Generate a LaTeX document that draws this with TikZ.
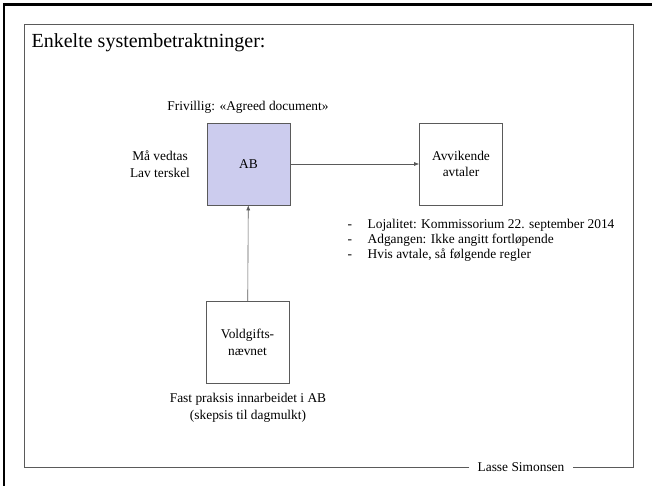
\documentclass[tikz,border=0pt]{standalone}
\usepackage{fontspec}
\setmainfont{Liberation Serif}
\usetikzlibrary{arrows.meta}
\definecolor{abfill}{RGB}{204,204,238}
\definecolor{framegray}{RGB}{90,90,90}
\tikzset{
	every path/.style={semithick},
	align=center,
	body/.style={
		font=\fontsize{13.4}{16.5}\selectfont,
	},
	scn/.style={
		draw=framegray,
		rectangle,
		minimum width=83pt,
		minimum height=82pt,
		body,
	},
	arg/.style={
		draw=framegray,
		-{Latex[length=5pt,width=4pt]}
	},
}
\begin{document}
\begin{tikzpicture}[x=1pt,y=-1pt]
	\useasboundingbox (0,0) rectangle (652,486);

	% slide frame
	\draw[line width=2.5pt] (4,486) -- (4,4.5) -- (652,4.5);
	\node[body, inner xsep=8pt] (footer) at (521,467) {Lasse Simonsen};
	\draw[framegray] (footer.west) -- (24,467) -- (24,24) -- (633,24) -- (633,467) -- (footer.east);

	\node[anchor=west, font=\fontsize{20}{24}\selectfont] (title) at (28,43) {Enkelte systembetraktninger:};

	\node[scn, fill=abfill] (AB) at (248.5,164) {AB};
	\node[scn] (avvik) at (461,164) {Avvikende\\avtaler};
	\node[scn] (vold) at (247.5,342.5) {Voldgifts-\\nævnet};

	\node[body] (frivillig) at (248,107) {Frivillig: «Agreed document»};
	\node[body] (vedtas) at (160,164) {Må vedtas\\Lav terskel};
	\node[body] (praksis) at (248,408) {Fast praksis innarbeidet i AB\\(skepsis til dagmulkt)};

	\node[body, anchor=north west, align=left, font=\fontsize{13.4}{15}\selectfont] (punkter) at (344,216) {%
		\makebox[20pt][l]{-}Lojalitet: Kommissorium 22. september 2014\\
		\makebox[20pt][l]{-}Adgangen: Ikke angitt fortløpende\\
		\makebox[20pt][l]{-}Hvis avtale, så følgende regler};

	\draw[arg] (AB) -- (avvik);
	\draw[arg] (vold) -- (AB);

\end{tikzpicture}
\end{document}
